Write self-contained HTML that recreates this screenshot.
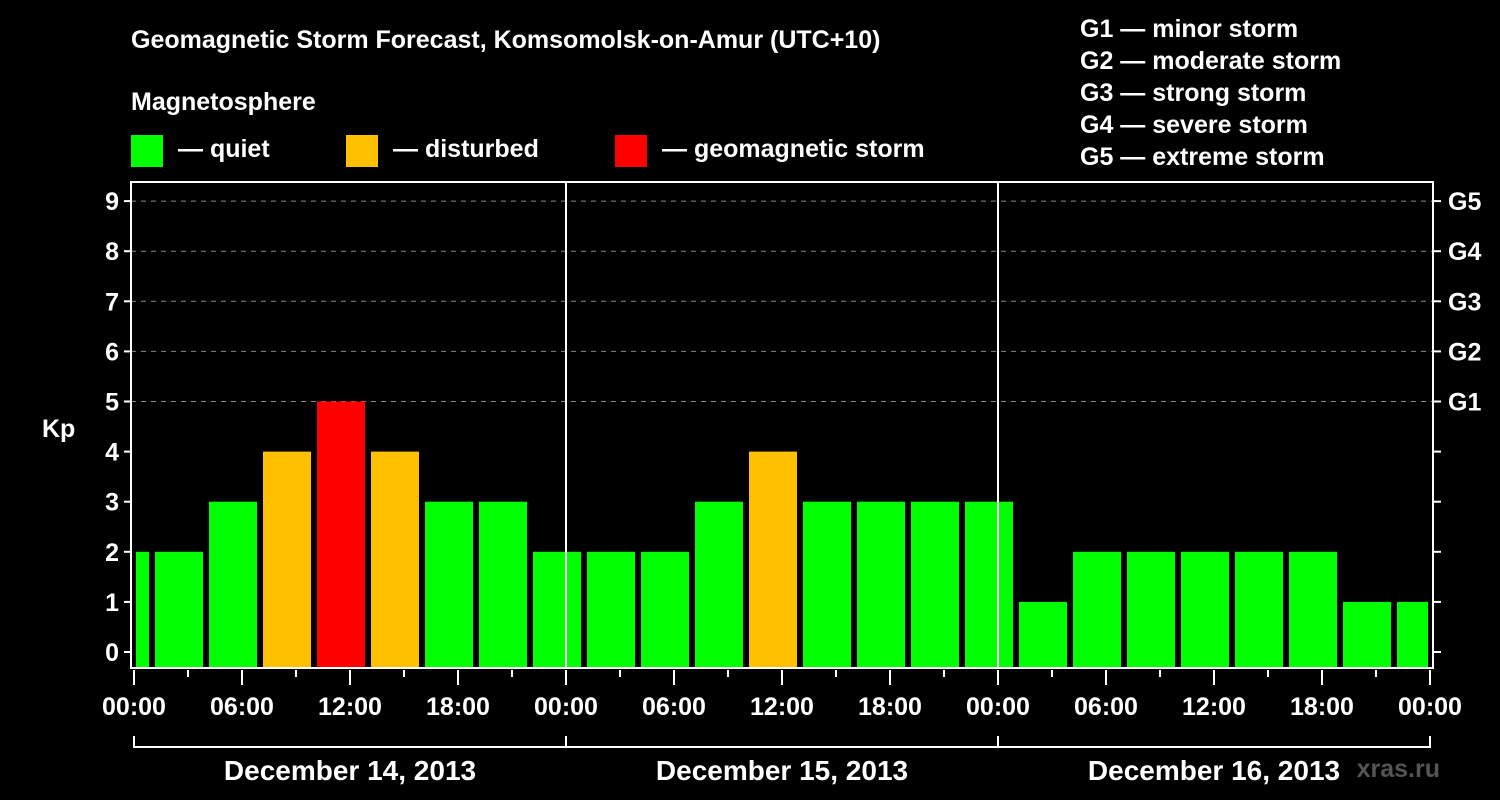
<!DOCTYPE html>
<html><head><meta charset="utf-8"><style>
body{margin:0;background:#000;width:1500px;height:800px;overflow:hidden}
svg{display:block;font-family:"Liberation Sans",Arial,sans-serif;font-weight:bold;fill:#fff}
</style></head><body>
<svg id="c" width="1500" height="800">
<text x="131" y="48" font-size="25">Geomagnetic Storm Forecast, Komsomolsk-on-Amur (UTC+10)</text>
<text x="131" y="110" font-size="25">Magnetosphere</text>
<g><rect x="131" y="135" width="32" height="32" fill="#00ff00"/><text x="178" y="157" font-size="25">— quiet</text></g>
<g><rect x="346" y="135" width="32" height="32" fill="#ffc000"/><text x="393" y="157" font-size="25">— disturbed</text></g>
<g><rect x="615" y="135" width="32" height="32" fill="#ff0000"/><text x="662" y="157" font-size="25">— geomagnetic storm</text></g>
<g font-size="25">
<text x="1080" y="37">G1 — minor storm</text><text x="1080" y="69">G2 — moderate storm</text><text x="1080" y="101">G3 — strong storm</text><text x="1080" y="133">G4 — severe storm</text><text x="1080" y="165">G5 — extreme storm</text></g>
<text x="42" y="437" font-size="25">Kp</text>
<text x="1440" y="777" font-size="25" fill="#666" style="fill:#555" text-anchor="end">xras.ru</text>
<g id="plot"></g>
</svg>
<script>
const kpValues=[2,2,3,4,5,4,3,3,2,2,2,3,4,3,3,3,3,1,2,2,2,2,2,1,1];
const yTickLabels=["0","1","2","3","4","5","6","7","8","9"];
const gLabels=["G1","G2","G3","G4","G5"];
const xTickLabels=["00:00","06:00","12:00","18:00","00:00","06:00","12:00","18:00","00:00","06:00","12:00","18:00","00:00"];
const dateLabels=["December 14, 2013","December 15, 2013","December 16, 2013"];
const NS="http://www.w3.org/2000/svg";
const g=document.getElementById('plot');
const X0=134,PXH=18,L=131,R=1433,T=182,B=668;
const xs=h=>X0+h*PXH;
const ys=k=>652-50.1*k;
function el(t,a,p){const e=document.createElementNS(NS,t);for(const k in a)e.setAttribute(k,a[k]);(p||g).appendChild(e);return e;}
// grid
for(let k=5;k<=9;k++){const e=el('line',{x1:L,x2:R,y1:ys(k),y2:ys(k),stroke:'#888','stroke-dasharray':'5,5','stroke-width':1});

}
// bars: bins start at local 22:00 previous day, 3h each
kpValues.forEach((v,i)=>{let h0=-2+3*i,h1=h0+3;let x0=Math.max(xs(h0)+3,L+5),x1=Math.min(xs(h1)-3,R-5);
const c=v>=5?'#ff0000':v>=4?'#ffc000':'#00ff00';
const e=el('rect',{x:x0,y:ys(v),width:x1-x0,height:B-ys(v),fill:c});

});
// frame
const f=el('rect',{x:L,y:T,width:R-L,height:B-T,fill:'none',stroke:'#fff','stroke-width':2});


[1,2].forEach(d=>{const e=el('line',{x1:xs(24*d),x2:xs(24*d),y1:T,y2:B,stroke:'#fff','stroke-width':2});

});
// y ticks
yTickLabels.forEach((t,k)=>{el('line',{x1:L-7,x2:L,y1:ys(k),y2:ys(k),stroke:'#fff','stroke-width':2});
el('line',{x1:R,x2:R+8,y1:ys(k),y2:ys(k),stroke:'#fff','stroke-width':2});
const e=el('text',{x:L-12,y:ys(k)+9,'font-size':25,'text-anchor':'end'});e.textContent=t;

});
gLabels.forEach((t,i)=>{const e=el('text',{x:1448,y:ys(5+i)+9,'font-size':25});e.textContent=t;

});
// x ticks
for(let h=0;h<=72;h+=3){const maj=h%6===0;el('line',{x1:xs(h),x2:xs(h),y1:B+2,y2:B+(maj?17:9),stroke:'#fff','stroke-width':2});}
xTickLabels.forEach((t,i)=>{const e=el('text',{x:xs(6*i),y:715,'font-size':25,'text-anchor':'middle'});e.textContent=t;

});
el('line',{x1:xs(0),x2:xs(72),y1:747,y2:747,stroke:'#fff','stroke-width':2});
for(let d=0;d<=3;d++)el('line',{x1:xs(24*d),x2:xs(24*d),y1:736,y2:748,stroke:'#fff','stroke-width':2});
dateLabels.forEach((t,i)=>{const e=el('text',{x:xs(24*i+12),y:780,'font-size':28,'text-anchor':'middle'});e.textContent=t;

});
</script>
</body></html>
